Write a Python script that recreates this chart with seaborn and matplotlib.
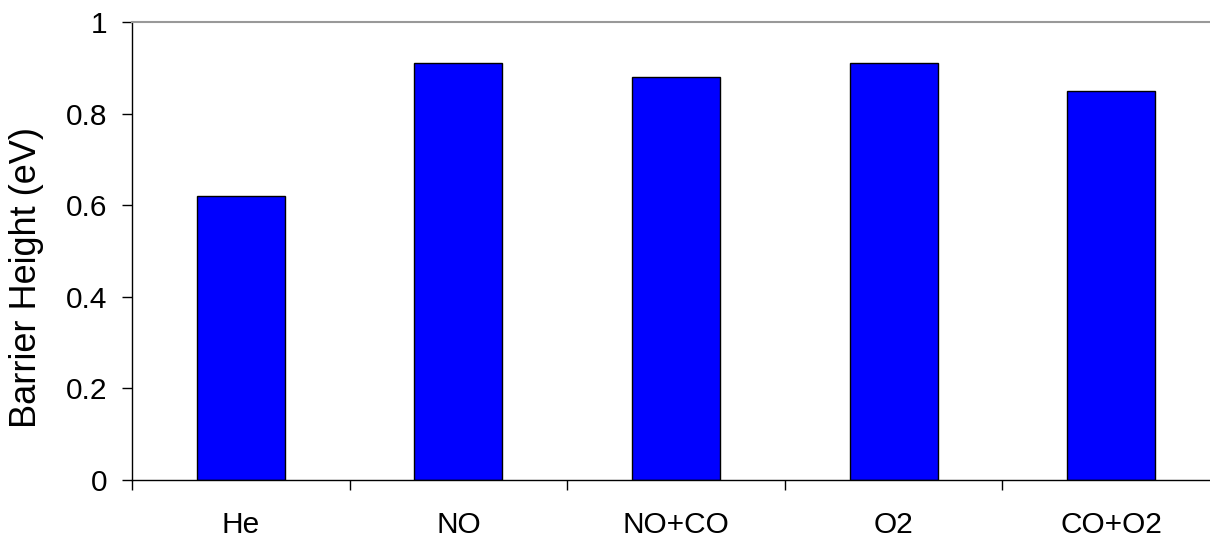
import numpy as np
import pandas as pd
import matplotlib
matplotlib.use("Agg")
import matplotlib.pyplot as plt
import seaborn as sns

# data
gases = ["He", "NO", "NO+CO", "O2", "CO+O2"]
barrier = [0.62, 0.91, 0.88, 0.91, 0.85]
y_ticks = [0, 0.2, 0.4, 0.6, 0.8, 1]
y_tick_labels = ["0", "0.2", "0.4", "0.6", "0.8", "1"]

sns.set_style("white")
plt.rcParams["font.family"] = ["Liberation Sans", "DejaVu Sans"]
plt.rcParams["text.color"] = "black"
plt.rcParams["axes.labelcolor"] = "black"
plt.rcParams["xtick.color"] = "black"
plt.rcParams["ytick.color"] = "black"

df = pd.DataFrame({"gas": gases, "height": barrier})

fig = plt.figure(figsize=(12.1, 5.4), dpi=100)
ax = fig.add_axes([132/1210, 60/540, 1088/1210, 458/540])

sns.barplot(data=df, x="gas", y="height", color="#0000FF", saturation=1,
            width=0.405, edgecolor="black", linewidth=1, ax=ax)

ax.set_xlim(-0.5, 4.5)
ax.set_ylim(0, 1)
ax.set_yticks(y_ticks)
ax.set_yticklabels(y_tick_labels, fontsize=21.5)
ax.tick_params(axis="y", direction="out", length=7, width=1, color="black",
               labelcolor="black", pad=11, left=True)

# category ticks between bars, labels in the middle
ax.set_xticks(np.arange(-0.5, 5.0, 1.0))
ax.set_xticklabels([])
ax.set_xticks(np.arange(len(gases)), minor=True)
ax.set_xticklabels(gases, minor=True, fontsize=21.5)
ax.tick_params(axis="x", which="major", direction="out", length=7, width=1,
               color="black", bottom=True)
ax.tick_params(axis="x", which="minor", length=0, pad=22, labelcolor="black")

ax.set_xlabel("")
ax.set_ylabel("Barrier Height (eV)", fontsize=26, color="black")
ax.yaxis.set_label_coords(-0.081, 0.443)

for s in ["left", "bottom"]:
    ax.spines[s].set_color("black")
    ax.spines[s].set_linewidth(1)
ax.spines["right"].set_visible(False)
ax.spines["top"].set_color("#999999")
ax.spines["top"].set_linewidth(1.5)

fig.savefig("out.png", dpi=100)
